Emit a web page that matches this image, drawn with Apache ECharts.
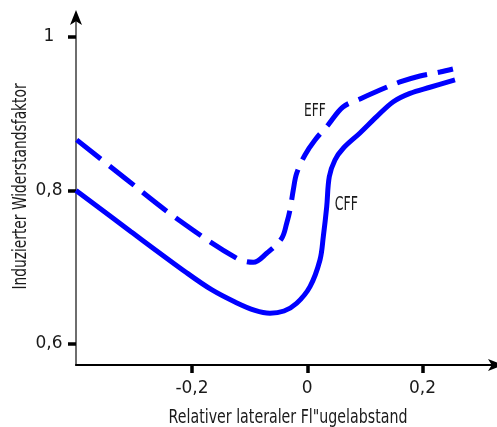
<!DOCTYPE html>
<html><head><meta charset="utf-8">
<script src="https://cdn.jsdelivr.net/npm/echarts@6/dist/echarts.min.js"></script>
<style>html,body{margin:0;padding:0;background:#fff}#c{width:497px;height:427px}</style>
</head><body><div id="c"></div>
<script>
const xTicks = [-0.2, 0, 0.2];
const yTicks = [0.6, 0.8, 1];
const xTitle = 'Relativer lateraler Fl"ugelabstand';
const yTitle = 'Induzierter Widerstandsfaktor';
const seriesNames = ['EFF', 'CFF'];
// EFF (dashed)
const effX = [-0.400, -0.3145, -0.2278, -0.1225, -0.0937, -0.0704, -0.0444, -0.0357, -0.030, -0.0243, -0.0184, -0.0040, 0.0134, 0.0359, 0.0619, 0.0914, 0.1261, 0.1608, 0.1955, 0.2302, 0.2527];
const effY = [0.866, 0.815, 0.7642, 0.7117, 0.7064, 0.7182, 0.7377, 0.7573, 0.7746, 0.8007, 0.8224, 0.8463, 0.8658, 0.8853, 0.9088, 0.9192, 0.9309, 0.9414, 0.9492, 0.9544, 0.9583];
// CFF (solid)
const cffX = [-0.4012, -0.3058, -0.2087, -0.1653, -0.1254, -0.0907, -0.0647, -0.0404, -0.0184, 0.0047, 0.0220, 0.0278, 0.0337, 0.0382, 0.0480, 0.0624, 0.0914, 0.1204, 0.1492, 0.1781, 0.2128, 0.2562];
const cffY = [0.800, 0.7463, 0.6925, 0.6704, 0.6547, 0.6437, 0.6400, 0.6430, 0.6530, 0.6747, 0.7094, 0.7398, 0.7789, 0.8180, 0.8397, 0.8550, 0.8749, 0.8962, 0.9157, 0.9266, 0.9345, 0.9440];
// label anchor points (data coordinates)
const labelX = [0.0134, 0.0677];
const labelY = [0.9036, 0.781];

const fmt = v => String(v).replace('.', ',');
const effData = effX.map((x, i) => [x, effY[i]]);
const cffData = cffX.map((x, i) => [x, cffY[i]]);

const chart = echarts.init(document.getElementById('c'), null, {renderer: 'canvas'});
const tickLabel = {fontFamily: 'DejaVu Sans', fontSize: 17, color: '#1a1a1a', formatter: fmt};
chart.setOption({
  animation: false,
  backgroundColor: '#fff',
  grid: {left: 76, right: 1.5, top: 17.5, bottom: 62},
  xAxis: {
    type: 'value', min: -0.4012, max: 0.3265,
    axisLine: {show: true, onZero: false, symbol: ['none', 'arrow'], symbolSize: [9, 15], symbolOffset: [0, 7.5], lineStyle: {color: '#000', width: 2}},
    axisTick: {show: true, length: 8, customValues: xTicks, lineStyle: {color: '#000', width: 3.5}},
    axisLabel: Object.assign({customValues: xTicks, margin: 15}, tickLabel),
    splitLine: {show: false}
  },
  yAxis: [{
    type: 'value', min: 0.5726, max: 1.0254, position: 'left',
    axisLine: {show: true, onZero: false, lineStyle: {color: '#6e6e6e', width: 2}},
    axisTick: {show: true, length: 8, customValues: yTicks, lineStyle: {color: '#000', width: 3.5}},
    axisLabel: Object.assign({customValues: yTicks, margin: 27, align: 'center'}, tickLabel),
    splitLine: {show: false}
  }, {
    type: 'value', min: 0.5726, max: 1.0254, position: 'left',
    axisLine: {show: true, onZero: false, symbol: ['none', 'arrow'], symbolSize: [9, 15], symbolOffset: [0, 7.5], lineStyle: {color: '#000', width: 0}},
    axisTick: {show: false}, axisLabel: {show: false}, splitLine: {show: false}
  }],
  series: [{
    name: seriesNames[0], type: 'line', data: effData, showSymbol: false, smooth: 0.35,
    lineStyle: {color: '#0000ff', width: 5, type: [31, 11], cap: 'butt'}
  }, {
    name: seriesNames[1], type: 'line', data: cffData, showSymbol: false, smooth: 0.35,
    lineStyle: {color: '#0000ff', width: 5, type: 'solid'}
  }]
});

const lp = labelX.map((x, i) => chart.convertToPixel({gridIndex: 0}, [x, labelY[i]]));
const textStyle = (t, size) => ({text: t, font: size + 'px "DejaVu Sans"', fill: '#1a1a1a', textAlign: 'center', textVerticalAlign: 'middle'});
chart.setOption({
  graphic: [
    {type: 'text', x: 288, y: 418, scaleX: 0.71, style: textStyle(xTitle, 20)},
    {type: 'text', x: 21, y: 186.5, rotation: Math.PI / 2, scaleX: 0.69, style: textStyle(yTitle, 20)},
    {type: 'text', x: lp[0][0], y: lp[0][1], scaleX: 0.68, style: textStyle(seriesNames[0], 18)},
    {type: 'text', x: lp[1][0], y: lp[1][1], scaleX: 0.66, style: textStyle(seriesNames[1], 19)}
  ]
});
</script>
</body></html>
